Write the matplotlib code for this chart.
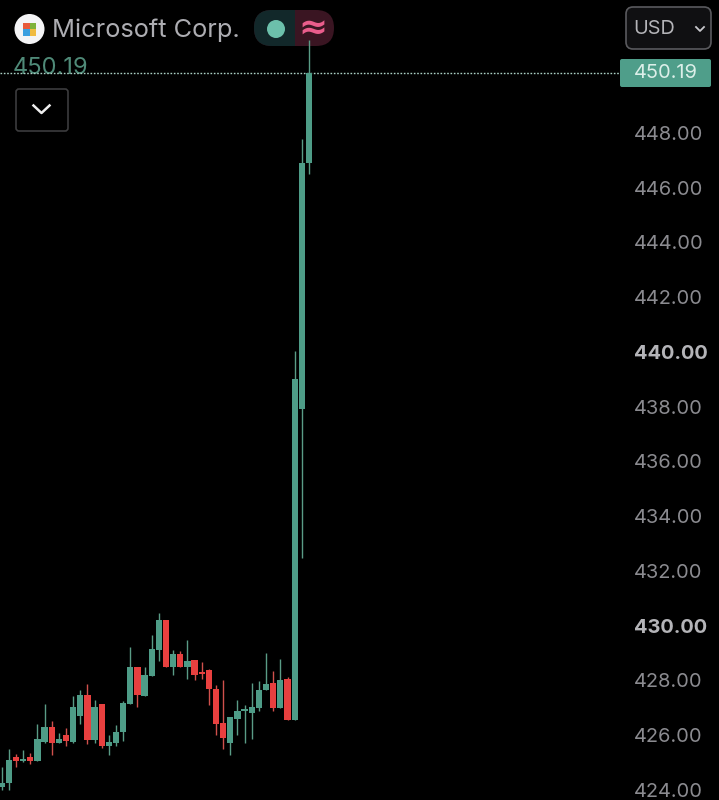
import matplotlib
matplotlib.use('Agg')
import numpy as np
import matplotlib.pyplot as plt
from matplotlib.patches import Circle, FancyBboxPatch, Rectangle

plt.rcParams['font.family'] = ['Inter', 'DejaVu Sans']

opens = [424.10, 424.27, 425.19, 425.05, 425.22, 425.07, 425.75, 426.31, 425.73, 426.00, 425.77,
         426.70, 427.48, 425.83, 427.14, 425.61, 425.70, 426.12, 427.14, 428.50, 427.43, 428.16,
         429.11, 430.21, 428.50, 428.97, 428.50, 428.75, 428.30, 428.38, 427.69, 426.46, 425.73,
         426.61, 426.90, 426.83, 427.00, 427.65, 427.90, 427.00, 428.04, 426.56, 437.92, 446.90]
highs = [424.85, 425.50, 425.32, 425.46, 425.36, 426.41, 427.14, 426.52, 426.07, 426.25, 427.43,
         427.65, 427.87, 427.29, 427.14, 426.00, 426.36, 427.26, 429.24, 428.50, 428.50, 429.66,
         430.48, 430.21, 429.11, 429.09, 429.48, 428.75, 428.68, 428.41, 427.82, 428.02, 426.68,
         427.29, 427.09, 427.92, 427.99, 428.99, 428.36, 428.77, 428.11, 440.03, 447.78, 451.39]
lows = [424.00, 424.00, 424.85, 425.02, 424.95, 425.07, 425.73, 425.28, 425.73, 425.61, 425.73,
        426.41, 425.68, 425.73, 425.53, 425.29, 425.61, 425.80, 427.14, 427.02, 427.43, 428.16,
        428.72, 428.50, 428.19, 428.50, 428.04, 428.02, 428.04, 427.12, 426.02, 425.51, 425.27,
        426.02, 425.73, 425.88, 426.87, 427.65, 426.87, 427.00, 426.56, 426.56, 432.47, 446.50]
closes = [424.27, 425.10, 425.05, 425.12, 425.07, 425.85, 426.31, 425.70, 425.85, 425.80, 427.02,
          427.48, 425.83, 427.02, 425.61, 425.75, 426.12, 427.19, 428.50, 427.46, 428.20, 429.14,
          430.21, 428.50, 428.96, 428.50, 428.71, 428.19, 428.24, 427.68, 426.41, 425.90, 426.65,
          426.90, 426.95, 427.02, 427.65, 427.86, 427.00, 428.02, 426.56, 439.01, 446.90, 450.19]
price_ticks = [424, 426, 428, 430, 432, 434, 436, 438, 440, 442, 444, 446, 448]
bold_ticks = [430, 440]
last_price = 450.19

UP = '#4e9c87'
UP_WICK = '#5a9c86'
DOWN = '#e8403f'
DOWN_WICK = '#d0504c'
BG = '#000000'

opens, highs, lows, closes = map(np.array, (opens, highs, lows, closes))
idx = np.arange(len(opens))
up = closes >= opens
colors = np.where(up, UP, DOWN)
wick_colors = np.where(up, UP_WICK, DOWN_WICK)

fig = plt.figure(figsize=(7.19, 8), dpi=100, facecolor=BG)

# header and badges, in pixels
ui = fig.add_axes([0, 0, 1, 1], zorder=0)
ui.set_xlim(0, 719)
ui.set_ylim(800, 0)
ui.axis('off')

# chart, stops left of the price labels
PX_PER_BAR = 7.145
PX_PER_USD = 27.38
ax = fig.add_axes([0, 0, 628 / 719, 1], zorder=1)
ax.patch.set_alpha(0)
ax.set_xlim(-1.7 / PX_PER_BAR, (628 - 1.7) / PX_PER_BAR)
ax.set_ylim(424 - 10 / PX_PER_USD, 424 + 790 / PX_PER_USD)
for s in ax.spines.values():
    s.set_visible(False)

ax.axhline(last_price, xmax=620 / 628, color='#a9cfc3', lw=1, ls=(0, (1.2, 1.2)), zorder=1)
ax.vlines(idx, lows, highs, colors=wick_colors, lw=1.0, zorder=2)
ax.bar(idx, np.abs(closes - opens), bottom=np.minimum(opens, closes), width=0.88,
       color=colors, linewidth=0, zorder=3)

ax.set_xticks([])
ax.yaxis.tick_right()
ax.set_yticks(price_ticks)
ax.set_yticklabels(['%.2f' % t for t in price_ticks])
ax.tick_params(axis='y', length=0, pad=4.5, labelsize=14.4, labelcolor='#8b8b90')
for lab, t in zip(ax.get_yticklabels(), price_ticks):
    lab.set_clip_on(False)
    if t in bold_ticks:
        lab.set_fontweight('bold')
        lab.set_color('#b4b4b8')

# logo
ui.add_patch(Circle((29.5, 29), 15, color='#f4f4f6', lw=0))
for x0, y0, c in [(23, 22.5, '#e8593a'), (29.7, 22.5, '#7fb23a'),
                  (23, 29.2, '#3a9fe0'), (29.7, 29.2, '#f0bb40')]:
    ui.add_patch(Rectangle((x0, y0), 6.5, 6.5, color=c, lw=0))
ui.text(52, 30, 'Microsoft Corp.', color='#adadb2', fontsize=18.3, va='center', ha='left')

# status pill
pill = FancyBboxPatch((254, 10), 80, 36, boxstyle='round,pad=0,rounding_size=18',
                      fc='#3a1522', ec='none')
ui.add_patch(pill)
half = Rectangle((254, 10), 41, 36, fc='#12282a', ec='none')
ui.add_patch(half)
half.set_clip_path(pill)
ui.add_patch(Circle((276, 29), 9, color='#6cc0ab', lw=0))
ui.text(312.5, 29, '\u2248', color='#ea5d8c', fontsize=25, ha='center', va='center',
        family=['DejaVu Sans'], fontweight='bold')

ui.text(13, 67.5, '450.19', color='#4f8a78', fontsize=17, ha='left', va='center')

# dropdown under the title
ui.add_patch(FancyBboxPatch((16, 89), 52, 42, boxstyle='round,pad=0,rounding_size=3',
                            fc='none', ec='#3c3c3e', lw=1.2))
ui.plot([33.5, 41.5, 49.5], [105.5, 113, 105.5], color='#eeeeee', lw=1.8)

# currency selector
ui.add_patch(FancyBboxPatch((626, 7), 85, 42, boxstyle='round,pad=0,rounding_size=7',
                            fc='#101012', ec='#5a5a5e', lw=1.2))
ui.text(633, 29.5, 'USD', color='#b4b4b8', fontsize=14.3, ha='left', va='center')
ui.plot([696, 700, 704], [27, 31, 27], color='#c8c8cc', lw=1.3)

# last price badge
ui.add_patch(FancyBboxPatch((620, 59), 91, 28, boxstyle='round,pad=0,rounding_size=2',
                            fc='#4f9e8a', ec='none'))
ui.text(634, 73.5, '450.19', color='#dcefe9', fontsize=14.4, ha='left', va='center')

fig.savefig('out.png', dpi=100, facecolor=BG)
